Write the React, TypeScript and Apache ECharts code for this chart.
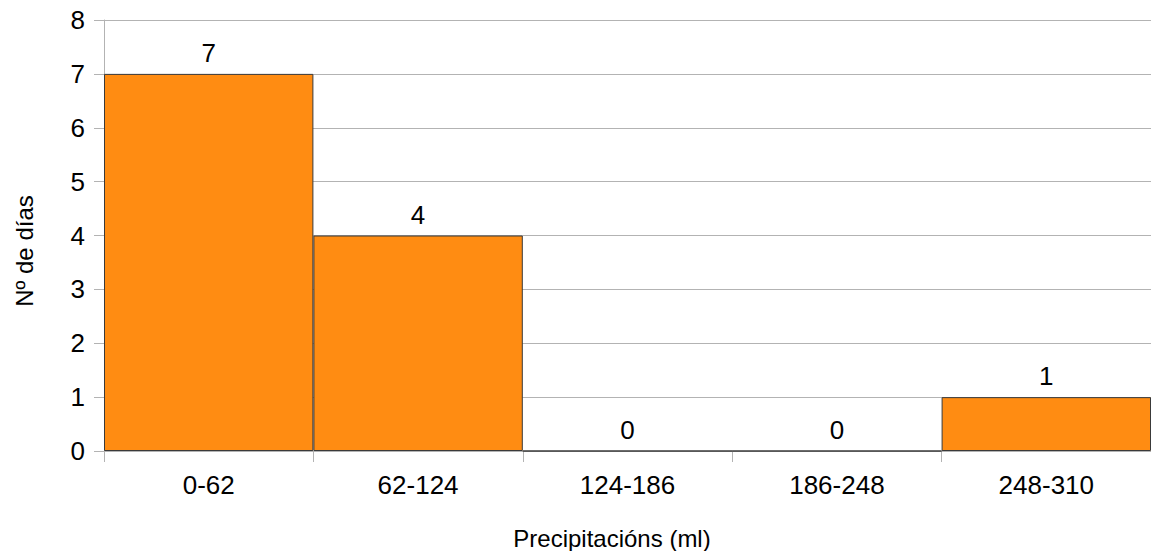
import React, { useEffect, useRef } from "react";
import * as echarts from "echarts";

const categories = ["0-62", "62-124", "124-186", "186-248", "248-310"];
const values = [7, 4, 0, 0, 1];
const yTicks = [0, 1, 2, 3, 4, 5, 6, 7, 8];
const xTitle = "Precipitacións (ml)";
const yTitle = "Nº de días";

export default function App() {
  const ref = useRef<HTMLDivElement>(null);
  useEffect(() => {
    const chart = echarts.init(ref.current!, null, { renderer: "svg" });
    const font = "'Liberation Sans', Arial, sans-serif";
    chart.setOption({
      animation: false,
      textStyle: { fontFamily: font },
      grid: { left: 104, top: 20, width: 1052, height: 431, containLabel: false },
      xAxis: {
        type: "category",
        data: categories,
        boundaryGap: true,
        axisLine: { show: true, lineStyle: { color: "#b3b3b3", width: 1 } },
        axisTick: { show: true, alignWithLabel: false, length: 11, lineStyle: { color: "#b3b3b3" } },
        axisLabel: { color: "#000", fontSize: 26, margin: 21, fontFamily: font },
        splitLine: { show: false },
      },
      yAxis: {
        type: "value",
        min: yTicks[0],
        max: yTicks[yTicks.length - 1],
        interval: 1,
        axisLine: { show: true, lineStyle: { color: "#b3b3b3", width: 1 } },
        axisTick: { show: true, length: 10, lineStyle: { color: "#b3b3b3" } },
        axisLabel: { color: "#000", fontSize: 26, margin: 19, fontFamily: font },
        splitLine: { show: true, lineStyle: { color: "#b3b3b3", width: 1 } },
      },
      series: [
        {
          type: "bar",
          data: values,
          barWidth: "100%",
          barCategoryGap: "0%",
          itemStyle: { color: "#ff8c12", borderColor: "#3a3a3a", borderWidth: 1 },
          label: {
            show: true,
            position: "top",
            distance: 8,
            color: "#000",
            fontSize: 26,
            fontFamily: font,
          },
        },
      ],
      graphic: [
        {
          type: "text",
          x: 612,
          y: 538,
          style: {
            text: xTitle,
            fill: "#000",
            font: `24px ${font}`,
            align: "center",
            verticalAlign: "middle",
          },
        },
        {
          type: "text",
          x: 24,
          y: 251,
          rotation: Math.PI / 2,
          style: {
            text: yTitle,
            fill: "#000",
            font: `24px ${font}`,
            align: "center",
            verticalAlign: "middle",
          },
        },
      ],
    });
    return () => chart.dispose();
  }, []);
  return (
    <div
      ref={ref}
      style={{ position: "absolute", left: 0, top: 0, width: 1151, height: 551, background: "#fff" }}
    />
  );
}
